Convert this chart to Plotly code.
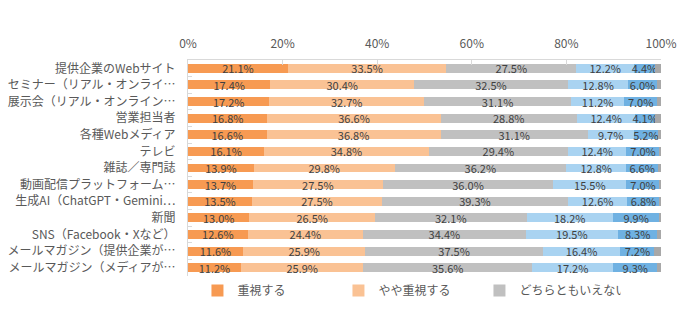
import plotly.graph_objects as go

categories = [
    "提供企業のWebサイト",
    "セミナー（リアル・オンライ…",
    "展示会（リアル・オンライン…",
    "営業担当者",
    "各種Webメディア",
    "テレビ",
    "雑誌／専門誌",
    "動画配信プラットフォーム…",
    "生成AI（ChatGPT・Gemini…",
    "新聞",
    "SNS（Facebook・Xなど）",
    "メールマガジン（提供企業が…",
    "メールマガジン（メディアが…",
]

series_names = ["重視する", "やや重視する", "どちらともいえない", "あまり重視しない", "重視しない", "その他"]

very_important = [21.1, 17.4, 17.2, 16.8, 16.6, 16.1, 13.9, 13.7, 13.5, 13.0, 12.6, 11.6, 11.2]
somewhat_important = [33.5, 30.4, 32.7, 36.6, 36.8, 34.8, 29.8, 27.5, 27.5, 26.5, 24.4, 25.9, 25.9]
neutral = [27.5, 32.5, 31.1, 28.8, 31.1, 29.4, 36.2, 36.0, 39.3, 32.1, 34.4, 37.5, 35.6]
not_very_important = [12.2, 12.8, 11.2, 12.4, 9.7, 12.4, 12.8, 15.5, 12.6, 18.2, 19.5, 16.4, 17.2]
not_important = [4.4, 6.0, 7.0, 4.1, 5.2, 7.0, 6.6, 7.0, 6.8, 9.9, 8.3, 7.2, 9.3]
other = [1.3, 0.9, 0.8, 1.3, 0.6, 0.3, 0.7, 0.3, 0.3, 0.3, 0.8, 1.4, 0.8]

tick_values = [0, 20, 40, 60, 80, 100]

colors = ["#F79A52", "#FAC294", "#C0C0C0", "#A9D3F1", "#6FB1E2", "#A8A8A8"]
all_series = [very_important, somewhat_important, neutral, not_very_important, not_important, other]
show_labels = [True, True, True, True, True, False]
in_legend = [True, True, True, False, False, False]

FONT = "Noto Sans CJK JP"

fig = go.Figure()
for name, vals, col, lab, leg in zip(series_names, all_series, colors, show_labels, in_legend):
    fig.add_trace(go.Bar(
        y=categories,
        x=vals,
        name=name,
        orientation="h",
        marker=dict(color=col, line=dict(width=0)),
        text=[f"{v:.1f}%" for v in vals] if lab else None,
        textposition="inside" if lab else "none",
        insidetextanchor="middle",
        textangle=0,
        constraintext="none",
        textfont=dict(family=FONT, size=11, color="#404040"),
        showlegend=leg,
        hoverinfo="skip",
    ))

fig.update_layout(
    barmode="stack",
    bargap=0.46,
    width=700,
    height=327,
    margin=dict(l=188, r=39, t=60, b=51),
    paper_bgcolor="white",
    plot_bgcolor="white",
    font=dict(family=FONT, size=12, color="#595959"),
    legend=dict(
        orientation="h",
        x=0.02,
        xanchor="left",
        y=0.0,
        yanchor="top",
        font=dict(family=FONT, size=12, color="#595959"),
        entrywidth=96,
        entrywidthmode="pixels",
        itemwidth=30,
        traceorder="normal",
    ),
    xaxis=dict(
        side="top",
        range=[0, 100],
        tickvals=tick_values,
        ticktext=[f"{v}%" for v in tick_values],
        showgrid=False,
        zeroline=False,
        showline=True,
        linecolor="#D9D9D9",
        linewidth=1,
        ticks="inside",
        ticklen=5,
        tickcolor="#D9D9D9",
        ticklabelstandoff=6,
        tickfont=dict(family=FONT, size=12, color="#595959"),
        automargin=False,
        fixedrange=True,
    ),
    yaxis=dict(
        autorange="reversed",
        showgrid=False,
        zeroline=False,
        showline=True,
        linecolor="#D9D9D9",
        linewidth=1,
        ticks="inside",
        ticklen=4,
        tickcolor="#D9D9D9",
        tickson="boundaries",
        ticklabelstandoff=9,
        tickfont=dict(family=FONT, size=12, color="#595959"),
        automargin=False,
        fixedrange=True,
    ),
)

fig.write_html("out.html", config={"displayModeBar": False})
